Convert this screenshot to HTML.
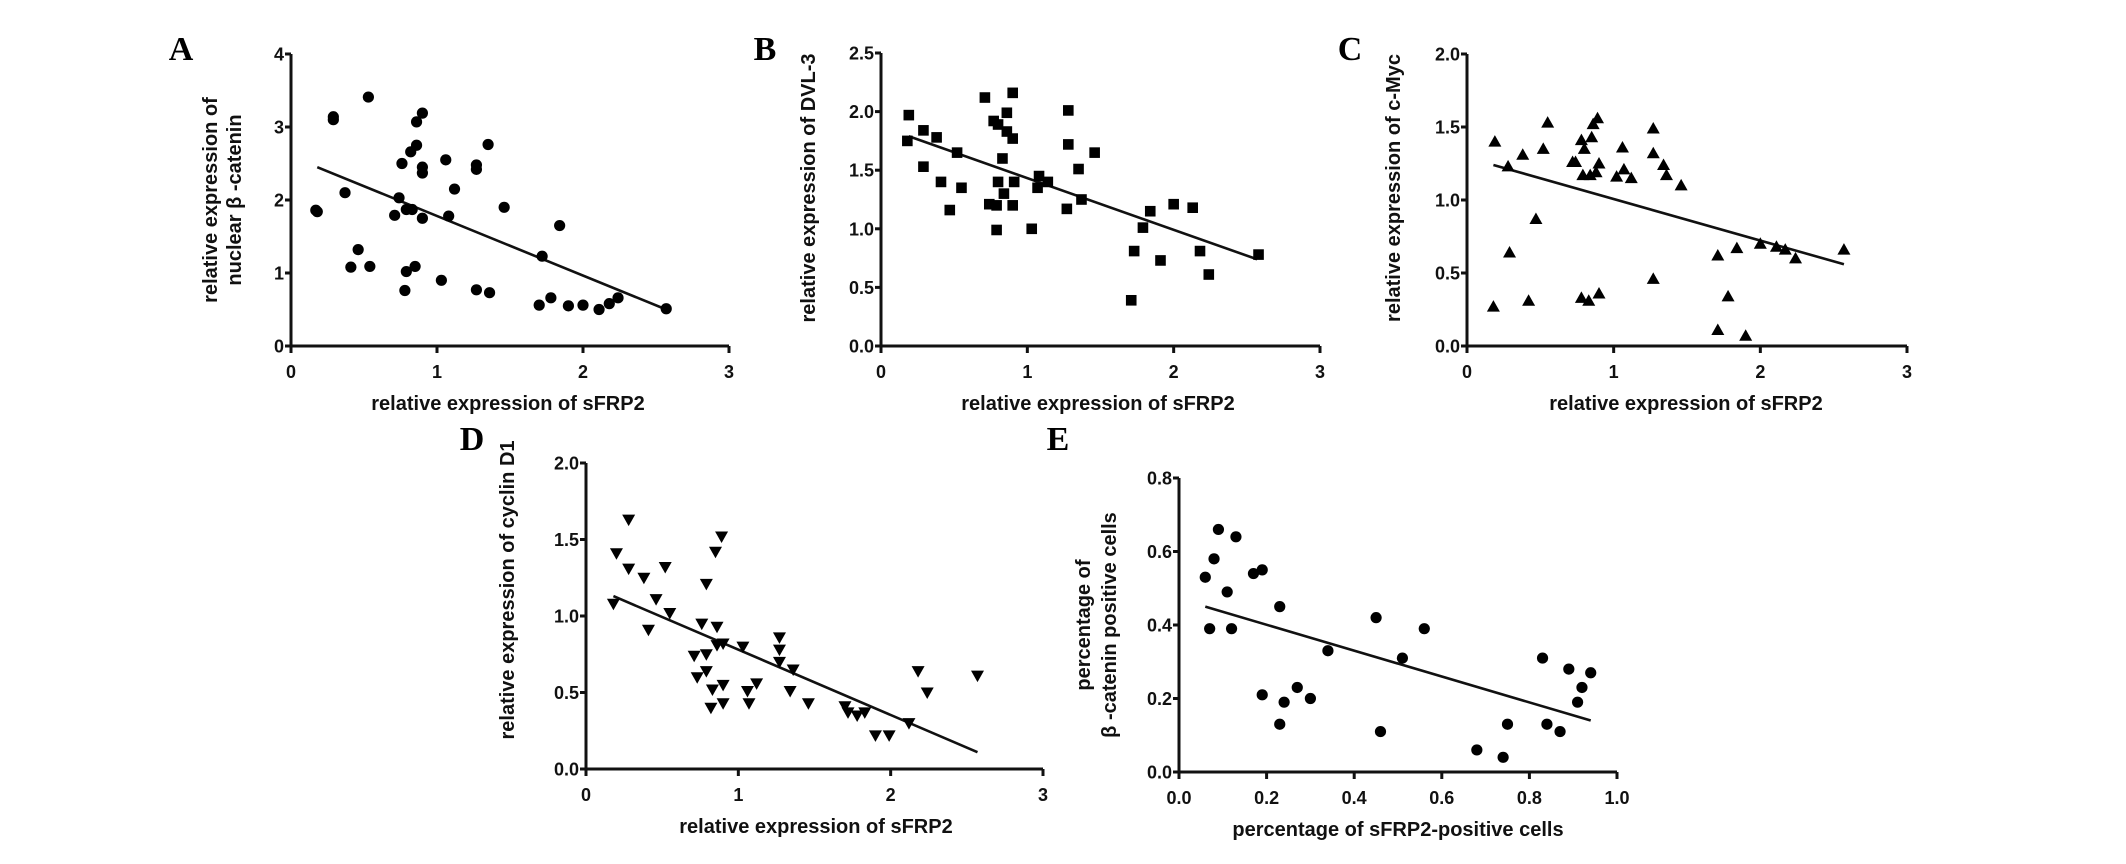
<!DOCTYPE html>
<html><head><meta charset="utf-8">
<style>
html,body{margin:0;padding:0;background:#fff;}
svg{display:block;}
text{font-family:"Liberation Sans",Arial,sans-serif;font-weight:bold;fill:#111;}
.lt{font-family:"Liberation Serif","Times New Roman",serif;font-weight:bold;font-size:34px;fill:#000;}
.tk{font-size:18px;}
.ti{font-size:20px;}
</style></head>
<body>
<svg id="fig" width="2126" height="864" viewBox="0 0 2126 864" xmlns="http://www.w3.org/2000/svg"></svg>
<script>
// ---- Panel A data (nuclear beta-catenin vs sFRP2) ----
const aX = [0.18,0.37,0.46,0.41,0.54,0.76,0.82,0.86,0.90,0.90,0.74,0.71,0.79,0.83,0.90,0.79,0.85,0.78,1.06,1.12,1.08,1.03,1.27,1.27,1.35,1.46,1.27,1.36,1.72,1.84,1.70,1.78,1.90,2.00,2.11,2.18,2.24,2.57,0.29,0.29,0.53,0.90,0.86,0.17];
const aY = [1.84,2.10,1.32,1.08,1.09,2.50,2.66,2.75,2.45,2.37,2.03,1.79,1.87,1.87,1.75,1.02,1.09,0.76,2.55,2.15,1.78,0.90,2.48,2.42,2.76,1.90,0.77,0.73,1.23,1.65,0.56,0.66,0.55,0.56,0.50,0.58,0.66,0.51,3.14,3.10,3.41,3.19,3.07,1.86];
const aFitX = [0.18,2.57];
const aFitY = [2.45,0.50];
const aYTicks = ["0","1","2","3","4"];
const aXTicks = ["0","1","2","3"];
// ---- Panel B data (DVL-3) ----
const bX = [0.19,0.18,0.29,0.29,0.38,0.41,0.47,0.52,0.55,0.71,0.77,0.80,0.86,0.86,0.90,0.90,0.83,0.80,0.91,0.84,0.74,0.79,0.90,0.79,1.08,1.07,1.14,1.03,1.28,1.28,1.27,1.35,1.37,1.46,1.73,1.79,1.84,1.71,1.91,2.00,2.13,2.18,2.24,2.58];
const bY = [1.97,1.75,1.84,1.53,1.78,1.40,1.16,1.65,1.35,2.12,1.92,1.89,1.99,1.83,1.77,2.16,1.60,1.40,1.40,1.30,1.21,1.20,1.20,0.99,1.45,1.35,1.40,1.00,2.01,1.72,1.17,1.51,1.25,1.65,0.81,1.01,1.15,0.39,0.73,1.21,1.18,0.81,0.61,0.78];
const bFitX = [0.19,2.57];
const bFitY = [1.79,0.74];
const bYTicks = ["0.0","0.5","1.0","1.5","2.0","2.5"];
const bXTicks = ["0","1","2","3"];
// ---- Panel C data (c-Myc) ----
const cX = [0.19,0.28,0.38,0.52,0.55,0.47,0.29,0.18,0.42,0.72,0.74,0.78,0.80,0.85,0.86,0.89,0.90,0.79,0.84,0.88,0.78,0.83,0.90,1.06,1.07,1.02,1.12,1.27,1.27,1.27,1.34,1.36,1.46,1.71,1.71,1.84,1.78,1.90,2.00,2.11,2.17,2.24,2.57];
const cY = [1.40,1.23,1.31,1.35,1.53,0.87,0.64,0.27,0.31,1.26,1.26,1.41,1.35,1.43,1.52,1.56,1.25,1.17,1.17,1.19,0.33,0.31,0.36,1.36,1.21,1.16,1.15,1.49,1.32,0.46,1.24,1.17,1.10,0.62,0.11,0.67,0.34,0.07,0.70,0.68,0.66,0.60,0.66];
const cFitX = [0.18,2.57];
const cFitY = [1.24,0.56];
const cYTicks = ["0.0","0.5","1.0","1.5","2.0"];
const cXTicks = ["0","1","2","3"];
// ---- Panel D data (cyclin D1) ----
const dX = [0.18,0.20,0.28,0.28,0.38,0.46,0.41,0.52,0.55,0.71,0.73,0.76,0.79,0.79,0.79,0.83,0.82,0.85,0.89,0.86,0.86,0.90,0.90,0.90,1.03,1.06,1.07,1.12,1.27,1.27,1.27,1.36,1.34,1.46,1.70,1.72,1.78,1.83,1.90,1.99,2.12,2.18,2.24,2.57];
const dY = [1.08,1.41,1.63,1.31,1.25,1.11,0.91,1.32,1.02,0.74,0.60,0.95,1.21,0.75,0.64,0.52,0.40,1.42,1.52,0.93,0.81,0.82,0.55,0.43,0.80,0.51,0.43,0.56,0.86,0.78,0.70,0.65,0.51,0.43,0.41,0.37,0.35,0.37,0.22,0.22,0.30,0.64,0.50,0.61];
const dFitX = [0.18,2.57];
const dFitY = [1.13,0.11];
const dYTicks = ["0.0","0.5","1.0","1.5","2.0"];
const dXTicks = ["0","1","2","3"];
// ---- Panel E data (percentage cells) ----
const eX = [0.06,0.07,0.08,0.09,0.11,0.12,0.13,0.17,0.19,0.19,0.23,0.23,0.24,0.27,0.30,0.34,0.45,0.46,0.51,0.56,0.68,0.74,0.75,0.83,0.84,0.87,0.89,0.91,0.92,0.94];
const eY = [0.53,0.39,0.58,0.66,0.49,0.39,0.64,0.54,0.55,0.21,0.45,0.13,0.19,0.23,0.20,0.33,0.42,0.11,0.31,0.39,0.06,0.04,0.13,0.31,0.13,0.11,0.28,0.19,0.23,0.27];
const eFitX = [0.06,0.94];
const eFitY = [0.45,0.14];
const eYTicks = ["0.0","0.2","0.4","0.6","0.8"];
const eXTicks = ["0.0","0.2","0.4","0.6","0.8","1.0"];

const NS = "http://www.w3.org/2000/svg";
const svg = document.getElementById("fig");
function mk(tag, attrs, parent){
  const e = document.createElementNS(NS, tag);
  for (const k in attrs) e.setAttribute(k, attrs[k]);
  (parent||svg).appendChild(e);
  return e;
}

function panel(p){
  const g = mk("g", {});
  
  
  const sx = v => p.x0 + (v - p.xmin) / (p.xmax - p.xmin) * p.w;
  const sy = v => p.y0 - (v - p.ymin) / (p.ymax - p.ymin) * p.h;
  // axes
  const ax = mk("g", {stroke:"#111","stroke-width":3,fill:"none"}, g);
  
  
  mk("line", {x1:p.x0, y1:p.y0, x2:p.x0, y2:p.y0 - p.h}, ax);
  mk("line", {x1:p.x0 - 6, y1:p.y0, x2:p.x0 + p.w, y2:p.y0}, ax);
  p.yt.forEach((t) => {
    const v = parseFloat(t), y = sy(v);
    mk("line", {x1:p.x0 - 6, y1:y, x2:p.x0, y2:y}, ax);
    const tx = mk("text", {x:p.x0 - 7, y:y + 6.5, "text-anchor":"end", class:"tk"}, g);
    tx.textContent = t;
    
    
  });
  p.xt.forEach((t) => {
    const v = parseFloat(t), x = sx(v);
    mk("line", {x1:x, y1:p.y0, x2:x, y2:p.y0 + 7}, ax);
    const tx = mk("text", {x:x, y:p.y0 + 32, "text-anchor":"middle", class:"tk"}, g);
    tx.textContent = t;
    
    
  });
  // fit line
  const fl = mk("line", {x1:sx(p.fx[0]), y1:sy(p.fy[0]), x2:sx(p.fx[1]), y2:sy(p.fy[1]), stroke:"#111","stroke-width":2.6}, g);
  
  
  // points
  p.xs.forEach((xv, i) => {
    const cx = sx(xv), cy = sy(p.ys[i]);
    let m;
    if (p.mark === "circle") m = mk("circle", {cx:cx, cy:cy, r:5.6, fill:"#000"}, g);
    else if (p.mark === "square") m = mk("rect", {x:cx - 5.3, y:cy - 5.3, width:10.6, height:10.6, fill:"#000"}, g);
    else if (p.mark === "up") m = mk("polygon", {points:`${cx-6.5},${cy+5} ${cx+6.5},${cy+5} ${cx},${cy-6.5}`, fill:"#000"}, g);
    else m = mk("polygon", {points:`${cx-6.5},${cy-5} ${cx+6.5},${cy-5} ${cx},${cy+6.5}`, fill:"#000"}, g);
    
    
  });
  // titles
  const xt = mk("text", {x:p.xtx, y:p.y0 + 64, "text-anchor":"middle", class:"ti"}, g);
  xt.textContent = p.xtitle;
  
  
  p.ytitle.forEach((line, i) => {
    const tx = p.ytx[i];
    const yt = mk("text", {x:0, y:0, "text-anchor":"middle", class:"ti", transform:`translate(${tx},${p.yty}) rotate(-90)`}, g);
    yt.textContent = line;
    
    
  });
  const lt = mk("text", {x:p.lx, y:p.ly, "text-anchor":"middle", class:"lt"}, g);
  lt.textContent = p.id;
  
  
}

panel({id:"A", x0:291, y0:346, w:438, h:292, xmin:0, xmax:3, ymin:0, ymax:4, xs:aX, ys:aY, fx:aFitX, fy:aFitY, yt:aYTicks, xt:aXTicks, mark:"circle",
  xtitle:"relative expression of sFRP2", xtx:508, ytitle:["relative expression of","nuclear  \u03b2 -catenin"], ytx:[217,241], yty:200, lx:181, ly:60});
panel({id:"B", x0:881, y0:346, w:439, h:293, xmin:0, xmax:3, ymin:0, ymax:2.5, xs:bX, ys:bY, fx:bFitX, fy:bFitY, yt:bYTicks, xt:bXTicks, mark:"square",
  xtitle:"relative expression of sFRP2", xtx:1098, ytitle:["relative expression of DVL-3"], ytx:[815], yty:188, lx:765, ly:60});
panel({id:"C", x0:1467, y0:346, w:440, h:292, xmin:0, xmax:3, ymin:0, ymax:2, xs:cX, ys:cY, fx:cFitX, fy:cFitY, yt:cYTicks, xt:cXTicks, mark:"up",
  xtitle:"relative expression of sFRP2", xtx:1686, ytitle:["relative expression of c-Myc"], ytx:[1400], yty:188, lx:1350, ly:60});
panel({id:"D", x0:586, y0:769, w:457, h:306, xmin:0, xmax:3, ymin:0, ymax:2, xs:dX, ys:dY, fx:dFitX, fy:dFitY, yt:dYTicks, xt:dXTicks, mark:"down",
  xtitle:"relative expression of sFRP2", xtx:816, ytitle:["relative expression of cyclin D1"], ytx:[514], yty:590, lx:472, ly:450});
panel({id:"E", x0:1179, y0:772, w:438, h:294, xmin:0, xmax:1, ymin:0, ymax:0.8, xs:eX, ys:eY, fx:eFitX, fy:eFitY, yt:eYTicks, xt:eXTicks, mark:"circle",
  xtitle:"percentage of  sFRP2-positive cells", xtx:1398, ytitle:["percentage of","\u03b2 -catenin positive cells"], ytx:[1090,1116], yty:625, lx:1058, ly:450});
</script>
</body></html>
